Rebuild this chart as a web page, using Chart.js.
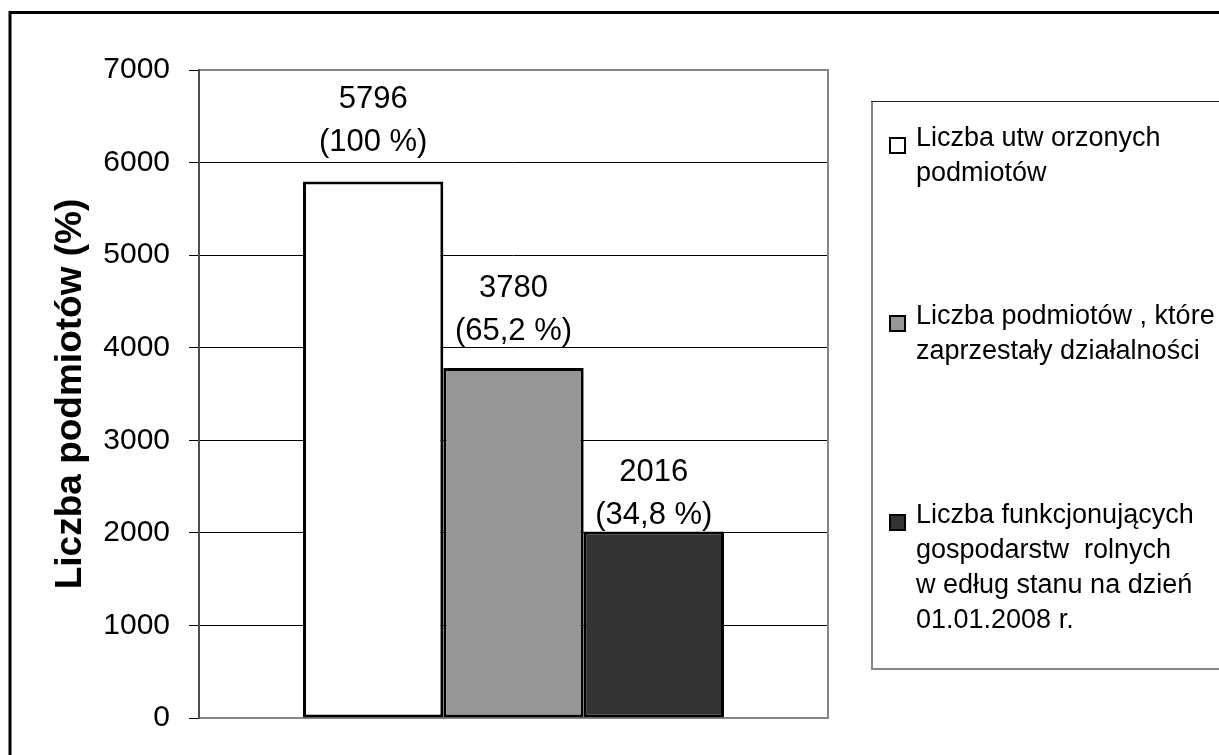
<!DOCTYPE html>
<html><head><meta charset="utf-8">
<script src="https://cdn.jsdelivr.net/npm/chart.js@4.4.0/dist/chart.umd.min.js"></script>
<style>html,body{margin:0;padding:0;background:#fff}#wrap{width:1219px;height:755px;position:relative}</style>
</head><body><div id="wrap"><canvas id="c" width="1219" height="755"></canvas></div>
<script>
// ---- data ----
const categories = [''];
const seriesNames = [
  ['Liczba utw orzonych', 'podmiotów'],
  ['Liczba podmiotów , które', 'zaprzestały działalności'],
  ['Liczba funkcjonujących', 'gospodarstw  rolnych', 'w edług stanu na dzień', '01.01.2008 r.']
];
const seriesValues = [5796, 3780, 2016];
const seriesPercentLabels = ['(100 %)', '(65,2 %)', '(34,8 %)'];
const yTickValues = [0, 1000, 2000, 3000, 4000, 5000, 6000, 7000];
const yAxisTitle = 'Liczba podmiotów (%)';

// ---- styles ----
const seriesColors = ['#ffffff', '#969696', '#333333'];
const FONT = "'Liberation Sans', Arial, sans-serif";
const labelOffsets = [41, 39, 18];   // px above bar top for 2nd label line
const legendItemY = [136, 314, 513]; // cap-centre y of first legend line

const extrasPlugin = {
  id: 'extras',
  beforeDatasetsDraw(chart) {
    const {ctx, chartArea: a} = chart;
    ctx.save();
    ctx.lineWidth = 2;
    ctx.strokeStyle = '#868686';
    ctx.beginPath();
    ctx.moveTo(a.left, a.top); ctx.lineTo(a.right, a.top);
    ctx.lineTo(a.right, a.bottom); ctx.lineTo(a.left, a.bottom);
    ctx.stroke();
    ctx.strokeStyle = '#4d4d4d';
    ctx.beginPath(); ctx.moveTo(a.left, a.top - 1); ctx.lineTo(a.left, a.bottom + 1); ctx.stroke();
    ctx.restore();
  },
  afterDraw(chart) {
    const {ctx} = chart;
    ctx.save();
    // data labels
    ctx.fillStyle = '#000';
    ctx.font = '31px ' + FONT;
    ctx.textAlign = 'center';
    ctx.textBaseline = 'alphabetic';
    chart.data.datasets.forEach((ds, i) => {
      const bar = chart.getDatasetMeta(i).data[0];
      const y2 = bar.y - labelOffsets[i];
      ctx.fillText(String(ds.data[0]), bar.x, y2 - 43 + 11);
      ctx.fillText(seriesPercentLabels[i], bar.x, y2 + 11);
    });
    // legend box
    ctx.lineWidth = 2;
    ctx.strokeStyle = '#868686';
    ctx.beginPath();
    ctx.moveTo(872, 102); ctx.lineTo(872, 669); ctx.lineTo(1230, 669);
    ctx.stroke();
    ctx.lineWidth = 1;
    ctx.strokeStyle = '#222';
    ctx.beginPath(); ctx.moveTo(871, 101.5); ctx.lineTo(1230, 101.5); ctx.stroke();
    // legend items
    ctx.font = '27px ' + FONT;
    ctx.textAlign = 'left';
    chart.data.datasets.forEach((ds, i) => {
      const base = legendItemY[i] + 10;
      ctx.fillStyle = ds.backgroundColor;
      ctx.fillRect(890, base - 8, 15, 15);
      ctx.lineWidth = 2;
      ctx.strokeStyle = '#000';
      ctx.strokeRect(890, base - 8, 15, 15);
      ctx.fillStyle = '#000';
      ds.label.forEach((line, k) => ctx.fillText(line, 916, base + k * 35));
    });
    // outer frame
    ctx.lineWidth = 3;
    ctx.strokeStyle = '#000';
    ctx.strokeRect(10, 12.5, 1400, 1000);
    ctx.restore();
  }
};

new Chart(document.getElementById('c'), {
  type: 'bar',
  data: {
    labels: categories,
    datasets: seriesValues.map((v, i) => ({
      label: seriesNames[i],
      data: [v],
      backgroundColor: seriesColors[i],
      borderColor: '#000',
      borderWidth: 3,
      borderSkipped: false,
      categoryPercentage: 421 / 629,
      barPercentage: 1
    }))
  },
  options: {
    responsive: false,
    animation: false,
    layout: {padding: {left: 0, top: 70, right: 391, bottom: 32}},
    plugins: {legend: {display: false}, tooltip: {enabled: false}},
    scales: {
      x: {display: false},
      y: {
        min: 0, max: 7000,
        afterFit(scale) { scale.width = 199; },
        afterBuildTicks(scale) { scale.ticks = yTickValues.map(v => ({value: v})); },
        border: {display: false},
        grid: {
          color: c => (c.tick && (c.tick.value === 0 || c.tick.value === 7000)) ? 'rgba(0,0,0,0)' : '#000',
          tickColor: '#000',
          lineWidth: 1,
          tickLength: 10,
          drawTicks: true
        },
        ticks: {
          color: '#000',
          padding: 19,
          font: {family: FONT, size: 30},
          callback: v => String(v)
        },
        title: {
          display: true,
          text: yAxisTitle,
          color: '#000',
          font: {family: FONT, size: 37, weight: 'bold'},
          padding: {top: 49, bottom: 0}
        }
      }
    }
  },
  plugins: [extrasPlugin]
});
</script>
</body></html>
